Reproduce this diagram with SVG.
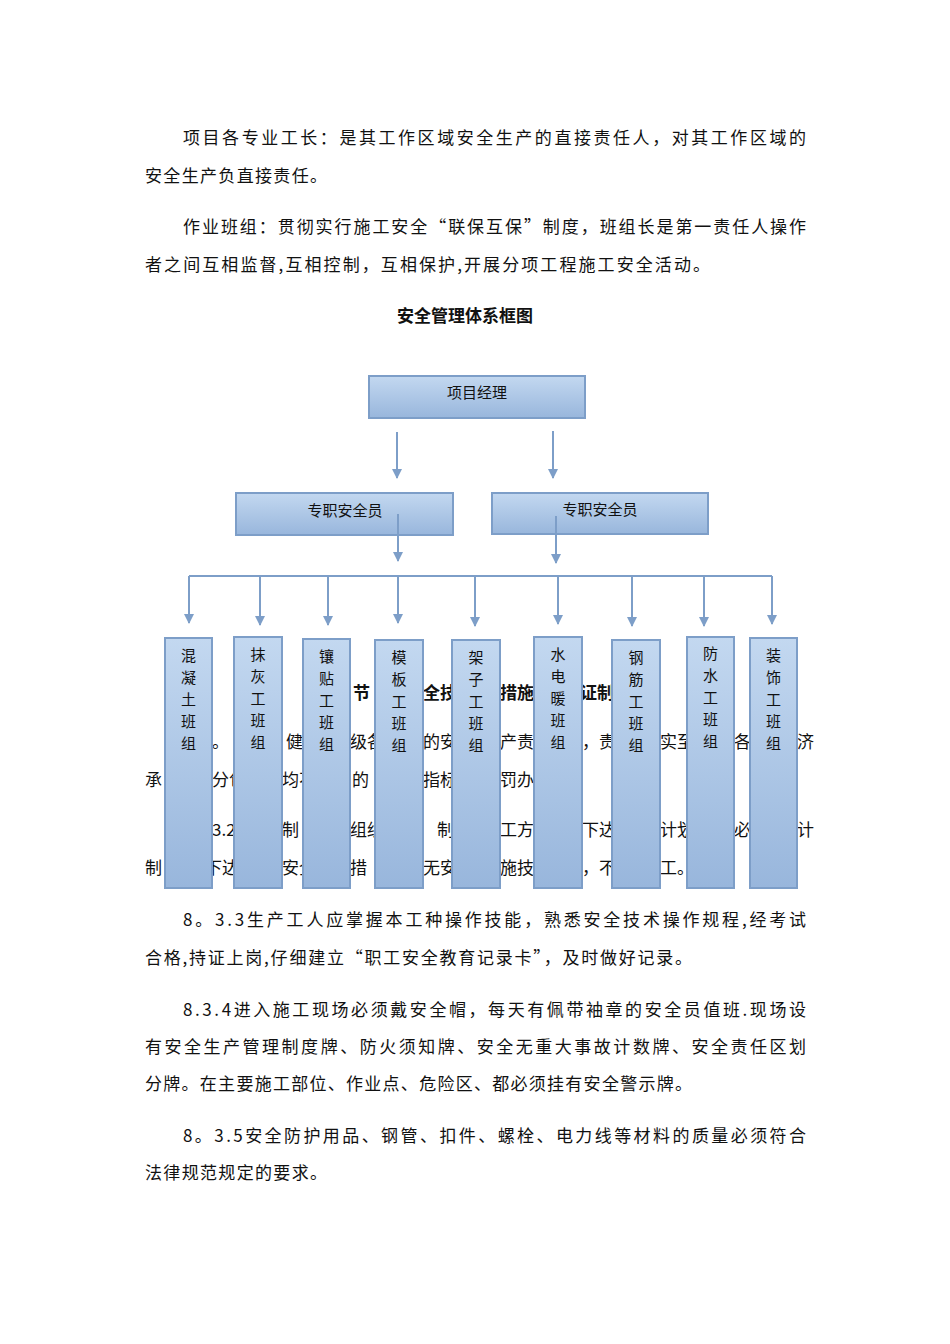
<svg xmlns="http://www.w3.org/2000/svg" width="950" height="1344" viewBox="0 0 950 1344">
<style>
text{font-family:"Noto Sans CJK SC","Liberation Serif",serif;font-size:17px;fill:#111}
.b{fill:url(#g);stroke:#7d9ec8;stroke-width:2}
.n{font-size:15px;text-anchor:middle}
.c{stroke:#7d9ec8;stroke-width:2;fill:none}
.h{font-weight:bold}
</style>
<defs>
<linearGradient id="g" x1="0" y1="0" x2="0" y2="1"><stop offset="0" stop-color="#c3d8f0"/><stop offset="1" stop-color="#98b6dc"/></linearGradient>
<marker id="a" viewBox="0 0 10 10" refX="9" refY="5" markerWidth="5" markerHeight="5" orient="auto"><path d="M0,0L10,5L0,10z" fill="#7d9ec8"/></marker>
</defs>
<rect width="950" height="1344" fill="#fff"/>
<text x="183" y="144" textLength="623">项目各专业工长：是其工作区域安全生产的直接责任人，对其工作区域的</text>
<text x="145" y="182" textLength="182">安全生产负直接责任。</text>
<text x="183" y="233" textLength="623">作业班组：贯彻实行施工安全“联保互保”制度，班组长是第一责任人操作</text>
<text x="145" y="271" textLength="565">者之间互相监督,互相控制，互相保护,开展分项工程施工安全活动。</text>
<text x="465" y="322" text-anchor="middle" class="h">安全管理体系框图</text>
<g id="frag">
<text x="353" y="699" class="h" font-size="18">节</text>
<text x="423" y="699" class="h" font-size="18">全技</text>
<text x="500" y="699" class="h" font-size="18">措施</text>
<text x="580" y="699" class="h" font-size="18">证制</text>
<text x="212" y="748">。</text><text x="286" y="748">健</text><text x="350" y="748">级各</text><text x="423" y="748">的安</text><text x="500" y="748">产责</text><text x="582" y="748">，责</text><text x="660" y="748">实至</text><text x="734" y="748">各</text><text x="797" y="748">济</text>
<text x="145" y="786">承</text><text x="212" y="786">分包</text><text x="282" y="786">均不</text><text x="352" y="786">的</text><text x="423" y="786">指标</text><text x="500" y="786">罚办法</text>
<text x="212" y="836">3.2</text><text x="282" y="836">制</text><text x="350" y="836">组织</text><text x="437" y="836">制</text><text x="500" y="836">工方</text><text x="582" y="836">下达</text><text x="660" y="836">计划</text><text x="734" y="836">必</text><text x="797" y="836">计</text>
<text x="145" y="874">制</text><text x="205" y="874">下达</text><text x="282" y="874">安全</text><text x="350" y="874">措</text><text x="423" y="874">无安</text><text x="500" y="874">施技术</text><text x="582" y="874">，不</text><text x="660" y="874">工。</text>
</g>
<text x="183" y="926" textLength="623">8。3.3生产工人应掌握本工种操作技能，熟悉安全技术操作规程,经考试</text>
<text x="145" y="964" textLength="547">合格,持证上岗,仔细建立“职工安全教育记录卡”，及时做好记录。</text>
<text x="183" y="1016" textLength="623">8.3.4进入施工现场必须戴安全帽，每天有佩带袖章的安全员值班.现场设</text>
<text x="145" y="1053" textLength="661">有安全生产管理制度牌、防火须知牌、安全无重大事故计数牌、安全责任区划</text>
<text x="145" y="1090" textLength="547">分牌。在主要施工部位、作业点、危险区、都必须挂有安全警示牌。</text>
<text x="183" y="1142" textLength="623">8。3.5安全防护用品、钢管、扣件、螺栓、电力线等材料的质量必须符合</text>
<text x="145" y="1179" textLength="182">法律规范规定的要求。</text>
<g id="n0"><rect class="b" x="369" y="376" width="216" height="42"/><text class="n" x="477" y="398">项目经理</text></g>
<g id="n1"><rect class="b" x="236" y="493" width="217" height="42"/><text class="n" x="345" y="516">专职安全员</text></g>
<g id="n2"><rect class="b" x="492" y="493" width="216" height="41"/><text class="n" x="600" y="515">专职安全员</text></g>
<g id="connectors">
<line class="c" x1="397" y1="432" x2="397" y2="478" marker-end="url(#a)"/>
<line class="c" x1="553" y1="431" x2="553" y2="478" marker-end="url(#a)"/>
<line class="c" x1="398" y1="514" x2="398" y2="561" marker-end="url(#a)"/>
<line class="c" x1="556" y1="516" x2="556" y2="563" marker-end="url(#a)"/>
<path class="c" d="M189,576H772"/>
<line class="c" x1="189" y1="576" x2="189" y2="623" marker-end="url(#a)"/>
<line class="c" x1="260" y1="576" x2="260" y2="625" marker-end="url(#a)"/>
<line class="c" x1="328" y1="576" x2="328" y2="625" marker-end="url(#a)"/>
<line class="c" x1="398" y1="576" x2="398" y2="623" marker-end="url(#a)"/>
<line class="c" x1="475" y1="576" x2="475" y2="626" marker-end="url(#a)"/>
<line class="c" x1="558" y1="576" x2="558" y2="624" marker-end="url(#a)"/>
<line class="c" x1="632" y1="576" x2="632" y2="626" marker-end="url(#a)"/>
<line class="c" x1="704" y1="576" x2="704" y2="626" marker-end="url(#a)"/>
<line class="c" x1="772" y1="576" x2="772" y2="624" marker-end="url(#a)"/>
</g>
<g id="t1"><rect class="b" x="165" y="638" width="47" height="250"/><text class="n" x="188.5" y="661">混</text><text class="n" x="188.5" y="683">凝</text><text class="n" x="188.5" y="705">土</text><text class="n" x="188.5" y="727">班</text><text class="n" x="188.5" y="749">组</text></g>
<g id="t2"><rect class="b" x="234" y="637" width="48" height="251"/><text class="n" x="258" y="660">抹</text><text class="n" x="258" y="682">灰</text><text class="n" x="258" y="704">工</text><text class="n" x="258" y="726">班</text><text class="n" x="258" y="748">组</text></g>
<g id="t3"><rect class="b" x="303" y="639" width="47" height="249"/><text class="n" x="326.5" y="662">镶</text><text class="n" x="326.5" y="684">贴</text><text class="n" x="326.5" y="706">工</text><text class="n" x="326.5" y="728">班</text><text class="n" x="326.5" y="750">组</text></g>
<g id="t4"><rect class="b" x="375" y="640" width="48" height="248"/><text class="n" x="399" y="663">模</text><text class="n" x="399" y="685">板</text><text class="n" x="399" y="707">工</text><text class="n" x="399" y="729">班</text><text class="n" x="399" y="751">组</text></g>
<g id="t5"><rect class="b" x="452" y="640" width="48" height="248"/><text class="n" x="476" y="663">架</text><text class="n" x="476" y="685">子</text><text class="n" x="476" y="707">工</text><text class="n" x="476" y="729">班</text><text class="n" x="476" y="751">组</text></g>
<g id="t6"><rect class="b" x="534" y="637" width="48" height="251"/><text class="n" x="558" y="660">水</text><text class="n" x="558" y="682">电</text><text class="n" x="558" y="704">暖</text><text class="n" x="558" y="726">班</text><text class="n" x="558" y="748">组</text></g>
<g id="t7"><rect class="b" x="612" y="640" width="48" height="248"/><text class="n" x="636" y="663">钢</text><text class="n" x="636" y="685">筋</text><text class="n" x="636" y="707">工</text><text class="n" x="636" y="729">班</text><text class="n" x="636" y="751">组</text></g>
<g id="t8"><rect class="b" x="687" y="637" width="47" height="251"/><text class="n" x="710.5" y="659">防</text><text class="n" x="710.5" y="681">水</text><text class="n" x="710.5" y="703">工</text><text class="n" x="710.5" y="725">班</text><text class="n" x="710.5" y="747">组</text></g>
<g id="t9"><rect class="b" x="750" y="638" width="47" height="250"/><text class="n" x="773.5" y="661">装</text><text class="n" x="773.5" y="683">饰</text><text class="n" x="773.5" y="705">工</text><text class="n" x="773.5" y="727">班</text><text class="n" x="773.5" y="749">组</text></g>
</svg>
